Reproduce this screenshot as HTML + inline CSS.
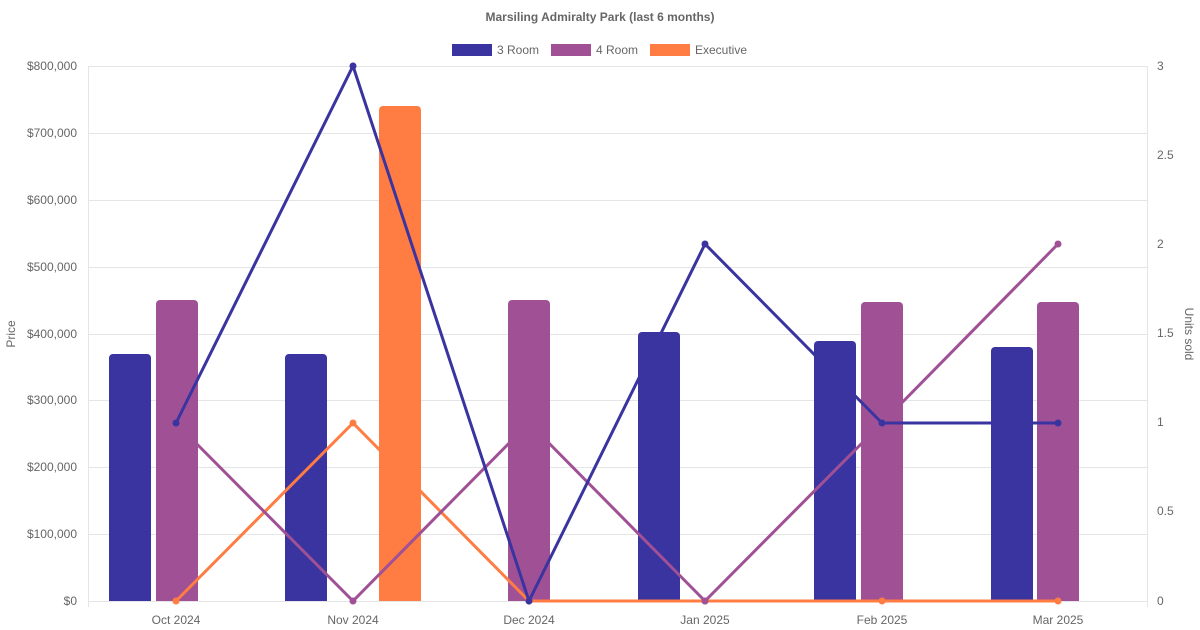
<!DOCTYPE html>
<html><head><meta charset="utf-8"><style>
body{margin:0;background:#fff;}
svg{display:block;font-family:"Liberation Sans",Arial,sans-serif;}
</style></head><body>
<svg width="1200" height="630" viewBox="0 0 1200 630" xmlns="http://www.w3.org/2000/svg">
<defs><clipPath id="c"><rect x="0" y="0" width="1200" height="601"/></clipPath></defs>
<text x="600" y="21" text-anchor="middle" font-size="12" font-weight="bold" fill="#666">Marsiling Admiralty Park (last 6 months)</text>
<rect x="452" y="44" width="40" height="12" fill="#3a34a0"/><text x="497" y="54" font-size="12" fill="#666">3 Room</text>
<rect x="551" y="44" width="40" height="12" fill="#a05195"/><text x="596" y="54" font-size="12" fill="#666">4 Room</text>
<rect x="650" y="44" width="40" height="12" fill="#ff7c43"/><text x="695" y="54" font-size="12" fill="#666">Executive</text>
<g stroke="#e5e5e5" stroke-width="1">
<line x1="88" y1="66.5" x2="1147" y2="66.5"/><line x1="88" y1="133.5" x2="1147" y2="133.5"/>
<line x1="88" y1="200.5" x2="1147" y2="200.5"/><line x1="88" y1="267.5" x2="1147" y2="267.5"/>
<line x1="88" y1="334.5" x2="1147" y2="334.5"/><line x1="88" y1="400.5" x2="1147" y2="400.5"/>
<line x1="88" y1="467.5" x2="1147" y2="467.5"/><line x1="88" y1="534.5" x2="1147" y2="534.5"/>
<line x1="88" y1="601.5" x2="1147" y2="601.5"/>
<line x1="88.5" y1="66" x2="88.5" y2="607"/><line x1="1147.5" y1="66" x2="1147.5" y2="607"/>
</g>
<g font-size="12" fill="#666" text-anchor="end">
<text x="77" y="70">$800,000</text><text x="77" y="137">$700,000</text><text x="77" y="204">$600,000</text>
<text x="77" y="271">$500,000</text><text x="77" y="338">$400,000</text><text x="77" y="404">$300,000</text>
<text x="77" y="471">$200,000</text><text x="77" y="538">$100,000</text><text x="77" y="605">$0</text>
</g>
<g font-size="12" fill="#666">
<text x="1157" y="70">3</text><text x="1157" y="159">2.5</text><text x="1157" y="248">2</text>
<text x="1157" y="337">1.5</text><text x="1157" y="426">1</text><text x="1157" y="515">0.5</text><text x="1157" y="605">0</text>
</g>
<g font-size="12" fill="#666" text-anchor="middle">
<text x="176" y="624">Oct 2024</text><text x="353" y="624">Nov 2024</text><text x="529" y="624">Dec 2024</text>
<text x="705" y="624">Jan 2025</text><text x="882" y="624">Feb 2025</text><text x="1058" y="624">Mar 2025</text>
</g>
<text transform="translate(15,334) rotate(-90)" font-size="12" fill="#666" text-anchor="middle">Price</text>
<text transform="translate(1185,334) rotate(90)" font-size="12" fill="#666" text-anchor="middle">Units sold</text>
<g clip-path="url(#c)">
<g fill="#3a34a0">
<rect x="109" y="354" width="42" height="257" rx="4"/>
<rect x="285" y="354" width="42" height="257" rx="4"/>
<rect x="638" y="332" width="42" height="279" rx="4"/>
<rect x="814" y="341" width="42" height="270" rx="4"/>
<rect x="991" y="347" width="42" height="264" rx="4"/>
</g>
<g fill="#a05195">
<rect x="156" y="300" width="42" height="311" rx="4"/>
<rect x="508" y="300" width="42" height="311" rx="4"/>
<rect x="861" y="302" width="42" height="309" rx="4"/>
<rect x="1037" y="302" width="42" height="309" rx="4"/>
</g>
<rect x="379" y="106" width="42" height="505" rx="4" fill="#ff7c43"/>
</g>
<polyline points="176,601 353,423 529,601 705,601 882,601 1058,601" fill="none" stroke="#ff7c43" stroke-width="3"/>
<polyline points="176,423 353,601 529,423 705,601 882,423 1058,244" fill="none" stroke="#a05195" stroke-width="3"/>
<polyline points="176,423 353,66 529,601 705,244 882,423 1058,423" fill="none" stroke="#3a34a0" stroke-width="3"/>
<g fill="#ff7c43"><circle cx="176" cy="601" r="3.5"/><circle cx="353" cy="423" r="3.5"/><circle cx="529" cy="601" r="3.5"/><circle cx="705" cy="601" r="3.5"/><circle cx="882" cy="601" r="3.5"/><circle cx="1058" cy="601" r="3.5"/></g>
<g fill="#a05195"><circle cx="176" cy="423" r="3.5"/><circle cx="353" cy="601" r="3.5"/><circle cx="529" cy="423" r="3.5"/><circle cx="705" cy="601" r="3.5"/><circle cx="882" cy="423" r="3.5"/><circle cx="1058" cy="244" r="3.5"/></g>
<g fill="#3a34a0"><circle cx="176" cy="423" r="3.5"/><circle cx="353" cy="66" r="3.5"/><circle cx="529" cy="601" r="3.5"/><circle cx="705" cy="244" r="3.5"/><circle cx="882" cy="423" r="3.5"/><circle cx="1058" cy="423" r="3.5"/></g>
</svg>
</body></html>
